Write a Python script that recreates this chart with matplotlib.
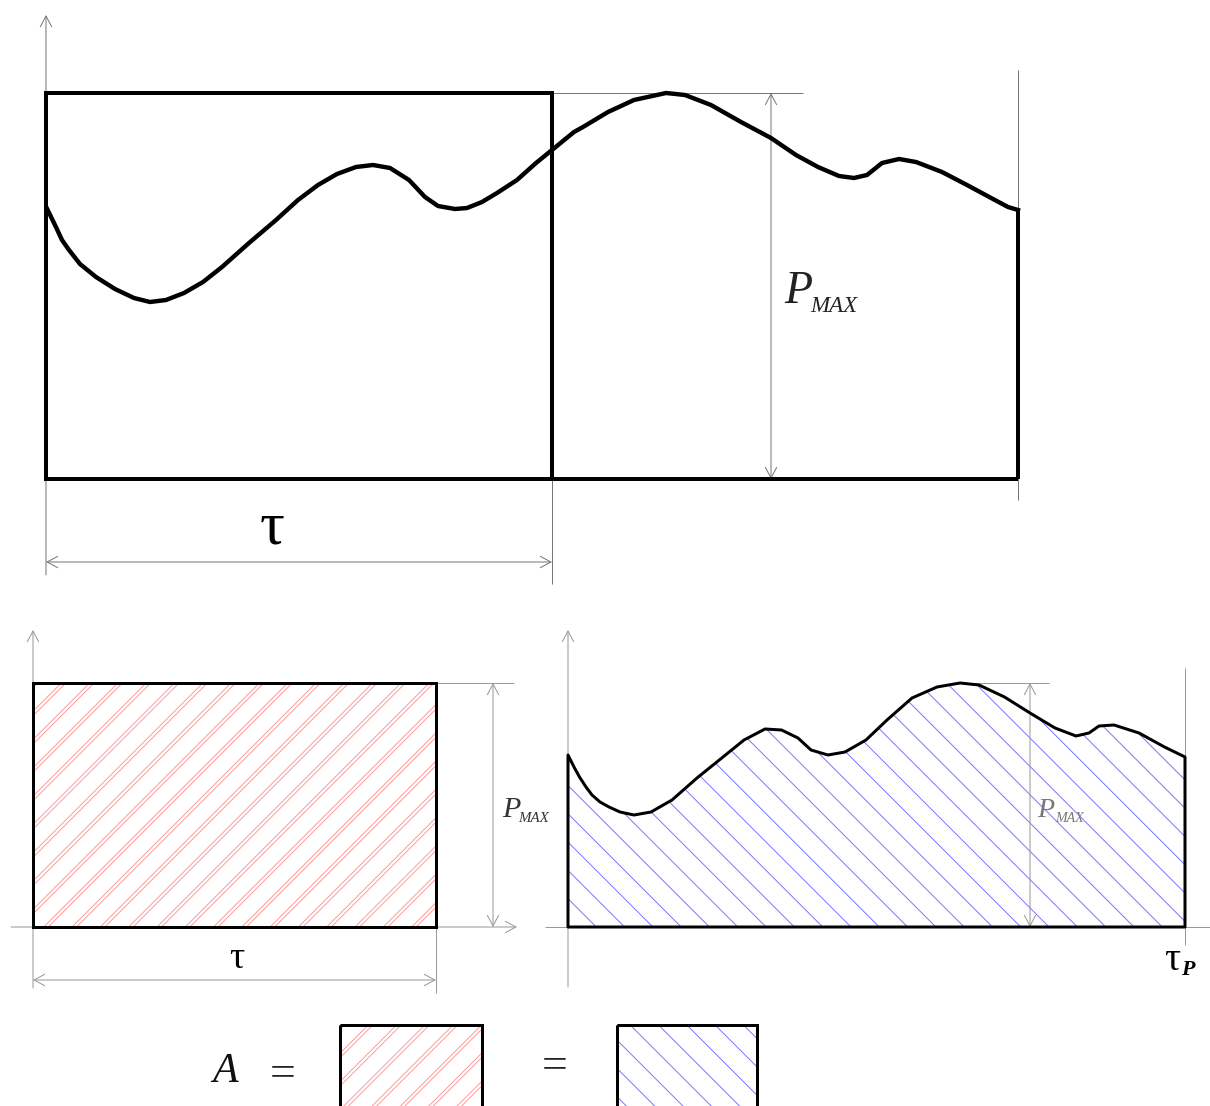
import numpy as np
import matplotlib
matplotlib.use("Agg")
import matplotlib.pyplot as plt
from matplotlib.patches import Polygon, Rectangle
from matplotlib.collections import LineCollection

# ---------------- data (pixel coordinates) ----------------
# top panel: power curve P(t)
top_x = [46.7, 55, 62, 69, 80, 96, 115, 134, 150, 166, 184, 203, 222, 249, 276, 298, 318,
         337, 356, 373, 390, 409, 425, 438, 455, 467, 482, 497, 517, 536, 552, 574, 583,
         608, 634, 666, 685, 711, 741, 771, 796, 818, 839, 854, 867, 882, 899, 916, 942,
         967, 993, 1008, 1018]
top_y = [208, 225, 240, 250, 264, 277, 289, 298, 302, 300, 293, 282, 267, 243, 220, 200, 185,
         174, 167, 165, 168, 180, 197, 206, 209, 208, 202, 193, 180, 163, 150, 132, 127,
         112, 100, 93, 95, 105, 122, 138, 155, 167, 176, 178, 175, 163, 159, 162, 172,
         185, 199, 207, 210]
top_rect = (46, 93, 552, 479)        # tau x P_MAX rectangle (x0, y_top, x1, y_base)
top_end_x = 1018                      # tau_P

# bottom-right panel: same curve, smaller
br_x = [568, 574, 579.5, 586, 592, 600, 609, 620, 634, 651, 672, 697, 723, 744, 765, 781.5,
        798, 811, 828, 845, 866, 887, 912, 937, 960, 979, 1004.5, 1030, 1055, 1076, 1089,
        1099, 1114, 1139, 1164.5, 1185]
br_y = [755, 767, 777, 787, 795, 802, 807, 812, 815, 812, 800, 778, 757, 740, 729, 730,
        738, 750, 755, 752, 740, 720, 698, 687, 683, 685, 697, 713, 728, 736, 733,
        726, 725, 733, 747, 757]
br_base = 927

# bottom-left panel: equivalent rectangle
bl_rect = (33, 683, 436, 927)

# equation boxes
eq_red = (340, 1025, 482, 1125)
eq_blue = (617, 1025, 757, 1125)

# ---------------- figure ----------------
DPI = 170
W, H = 1210, 1106
PT = 72.0 / DPI          # points per pixel

fig = plt.figure(figsize=(W / DPI, H / DPI), dpi=DPI)
ax = fig.add_axes([0, 0, 1, 1])
ax.set_xlim(0, W)
ax.set_ylim(H, 0)
ax.axis("off")

GRAY = "#777777"
LGRAY = "#999999"
RED = "#ff9c9c"
BLUE = "#7a7aff"


def line(xs, ys, color=GRAY, lw_px=1.0, z=2):
    ax.plot(xs, ys, color=color, lw=lw_px * PT, solid_capstyle="butt", zorder=z)


def arrow(p0, p1, style="<->", color=GRAY, lw_px=1.0):
    ax.annotate("", xy=p1, xytext=p0, zorder=3,
                arrowprops=dict(arrowstyle=f"{style},head_length=0.45,head_width=0.24",
                                color=color, lw=lw_px * PT, shrinkA=0, shrinkB=0,
                                mutation_scale=10))


def hatch(patch, bbox, direction, period, offsets, color, lw_px=1.0):
    x0, y0, x1, y1 = bbox
    h = y1 - y0
    segs = []
    for c in np.arange(x0 - h - period, x1 + period, period):
        for o in offsets:
            if direction == "/":
                segs.append([(c + o, y1), (c + o + h, y0)])
            else:
                segs.append([(c + o, y0), (c + o + h, y1)])
    lc = LineCollection(segs, colors=color, linewidths=lw_px * PT, zorder=1)
    ax.add_collection(lc)
    lc.set_clip_path(patch)


# ================= TOP PANEL =================
x0, yt, x1, yb = top_rect
# axes
arrow((x0, 575), (x0, 15), style="->", color=GRAY)
arrow((10, yb), (1213, yb), style="->", color=GRAY)
# extension lines
line([x1, x1], [yb, 584], GRAY)
line([x1, 803], [yt, yt], GRAY)
line([top_end_x, top_end_x], [70, 500], GRAY)
# dimension arrows
arrow((771, yb), (771, yt), color=GRAY)
arrow((x0, 562), (x1, 562), color=GRAY)
# thick shapes
rect = Rectangle((x0, yt), x1 - x0, yb - yt, fill=False, ec="black", lw=4 * PT, zorder=4)
ax.add_patch(rect)
line([x1, top_end_x], [yb, yb], "black", 4, z=4)
line([top_end_x, top_end_x], [top_y[-1], yb], "black", 4, z=4)
ax.plot(top_x, top_y, color="black", lw=4.4 * PT, zorder=5, solid_joinstyle="round")
# labels
ax.text(272, 543, "τ", fontsize=62 * PT, family="Liberation Serif", ha="center",
        va="baseline", color="black")
ax.text(784, 303, "P", fontsize=46 * PT, family="Liberation Serif", style="italic",
        va="baseline", color="#222222")
ax.text(810, 312, "MAX", fontsize=23 * PT, family="Liberation Serif", style="italic",
        va="baseline", color="#222222")

# ================= BOTTOM-LEFT PANEL =================
bx0, byt, bx1, byb = bl_rect
arrow((bx0, 988), (bx0, 630), style="->", color=LGRAY)
arrow((11, byb), (517, byb), style="->", color=LGRAY)
line([bx1, bx1], [byb, 993], LGRAY)
line([bx1, 514], [byt, byt], LGRAY)
arrow((493, byb), (493, byt), color=LGRAY)
arrow((bx0, 980), (bx1, 980), color=LGRAY)
rect_bl = Rectangle((bx0, byt), bx1 - bx0, byb - byt, fc="none", ec="black", lw=3 * PT, zorder=4)
ax.add_patch(rect_bl)
hatch(rect_bl, bl_rect, "/", 28.3, [0, 4.5], RED)
ax.text(237, 968, "τ", fontsize=38 * PT, family="Liberation Serif", ha="center",
        va="baseline", color="black")
ax.text(502, 817, "P", fontsize=30 * PT, family="Liberation Serif", style="italic",
        va="baseline", color="#333333")
ax.text(518, 822, "MAX", fontsize=15 * PT, family="Liberation Serif", style="italic",
        va="baseline", color="#333333")

# ================= BOTTOM-RIGHT PANEL =================
arrow((br_x[0], 987), (br_x[0], 630), style="->", color=LGRAY)
line([545, 1210], [br_base, br_base], LGRAY)
line([br_x[-1], br_x[-1]], [668, 945], LGRAY)
line([960, 1049], [683, 683], LGRAY)
arrow((1030, br_base), (1030, 683), color=LGRAY)
poly_xy = list(zip(br_x, br_y)) + [(br_x[-1], br_base), (br_x[0], br_base)]
poly = Polygon(poly_xy, closed=True, fc="none", ec="black", lw=3 * PT, zorder=4,
               joinstyle="round")
ax.add_patch(poly)
hatch(poly, (br_x[0], min(br_y), br_x[-1], br_base), "\\", 28.3, [0], BLUE)
ax.text(1037, 817, "P", fontsize=28 * PT, family="Liberation Serif", style="italic",
        va="baseline", color="#777777")
ax.text(1055, 822, "MAX", fontsize=14 * PT, family="Liberation Serif", style="italic",
        va="baseline", color="#777777")
ax.text(1172, 970, "τ", fontsize=40 * PT, family="Liberation Serif", ha="center",
        va="baseline", color="black")
ax.text(1181, 975, "P", fontsize=22 * PT, family="Liberation Serif", style="italic",
        weight="bold", va="baseline", color="black")

# ================= EQUATION =================
ax.text(212, 1082, "A", fontsize=42 * PT, family="Liberation Serif", style="italic",
        va="baseline", color="#111111")
ax.text(283, 1070, "=", fontsize=46 * PT, family="Liberation Serif", ha="center",
        va="center_baseline", color="#222222")
ax.text(555, 1062, "=", fontsize=46 * PT, family="Liberation Serif", ha="center",
        va="center_baseline", color="#222222")
for box, d, offs, col in [(eq_red, "/", [0, 4.5], RED), (eq_blue, "\\", [0], BLUE)]:
    ex0, ey0, ex1, ey1 = box
    r = Rectangle((ex0, ey0), ex1 - ex0, ey1 - ey0, fc="none", ec="black", lw=3 * PT, zorder=4)
    ax.add_patch(r)
    hatch(r, box, d, 28.3, offs, col)

fig.savefig("out.png", dpi=DPI, facecolor="white")
